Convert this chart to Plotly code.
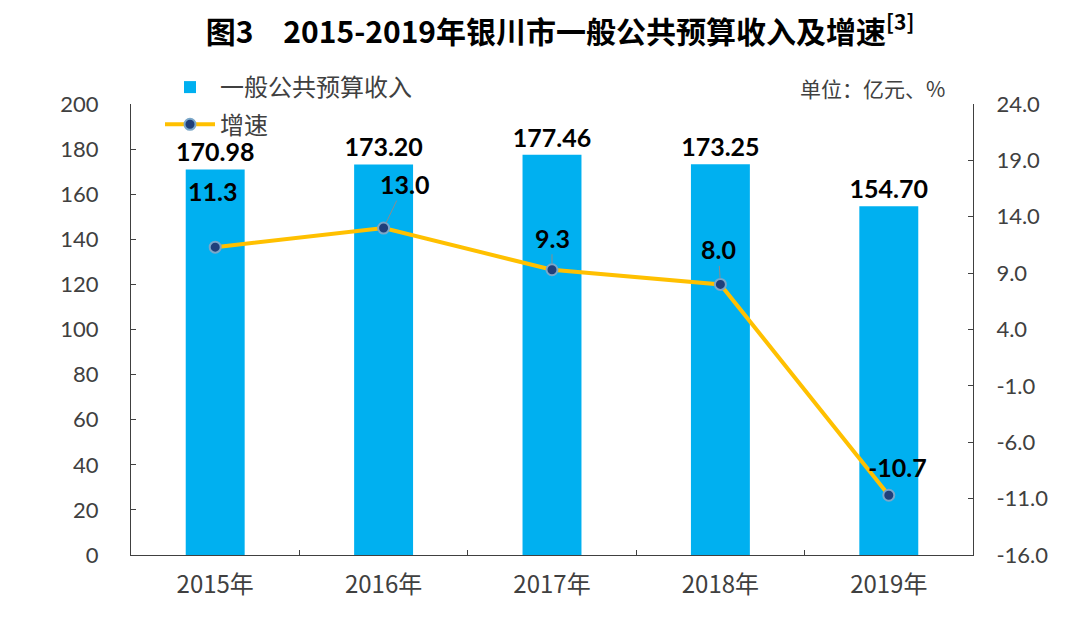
import plotly.graph_objects as go

years = ["2015年", "2016年", "2017年", "2018年", "2019年"]
revenue = [170.98, 173.20, 177.46, 173.25, 154.70]
growth = [11.3, 13.0, 9.3, 8.0, -10.7]
revenue_labels = ["170.98", "173.20", "177.46", "173.25", "154.70"]
growth_labels = ["11.3", "13.0", "9.3", "8.0", "-10.7"]
right_tick_vals = [-16, -11, -6, -1, 4, 9, 14, 19, 24]
right_tick_text = ["-16.0", "-11.0", "-6.0", "-1.0", "4.0", "9.0", "14.0", "19.0", "24.0"]
# label offsets (pixels) for growth labels, and whether a leader line is shown
growth_ax = [-3, 21, 0, -2, 9]
growth_ay = [-56, -44, -32, -35, -28]
growth_leader = [False, True, True, True, False]

bar_color = "#00B0F0"
line_color = "#FFC000"
num_font = "Lato"
cjk_font = "Noto Sans CJK SC"
axis_grey = "#404040"

# the page body adds an 8px offset; positions below are target page pixels
off = 8
W, H = 1080, 621
plot_l, plot_r, plot_t, plot_b = 131 - off, 973 - off, 104 - off, 555 - off
pw, ph = plot_r - plot_l, plot_b - plot_t

fig = go.Figure()
fig.add_trace(go.Bar(
    x=years, y=revenue, name="一般公共预算收入", legendgroup="a",
    marker=dict(color=bar_color, line=dict(width=0)),
    width=0.35,
    text=revenue_labels, textposition="outside", constraintext="none",
    textfont=dict(family=num_font, size=25, color="#000000", weight="bold"),
    cliponaxis=False,
))
fig.add_trace(go.Scatter(
    x=years, y=growth, name="增速", yaxis="y2", legendgroup="b",
    mode="lines+markers",
    line=dict(color=line_color, width=4),
    marker=dict(color="#1F3F7A", size=11, line=dict(color="#7BA7C9", width=2)),
))

for i in range(len(years)):
    fig.add_annotation(
        x=years[i], y=growth[i], xref="x", yref="y2",
        text=growth_labels[i], showarrow=True,
        ax=growth_ax[i], ay=growth_ay[i],
        arrowhead=0, arrowwidth=1,
        arrowcolor="#8C8C8C" if growth_leader[i] else "rgba(0,0,0,0)",
        standoff=6,
        font=dict(family=num_font, size=25, color="#000000", weight="bold"),
    )

fig.add_annotation(
    x=(947 - off - plot_l) / pw, y=(plot_b - (88 - off)) / ph, xref="paper", yref="paper",
    text="单位：亿元、%", showarrow=False, xanchor="right", yanchor="middle",
    font=dict(family=cjk_font, size=21, color=axis_grey),
)

fig.update_layout(
    width=W, height=H,
    margin=dict(l=plot_l, r=W - plot_r, t=plot_t, b=H - plot_b, autoexpand=False),
    paper_bgcolor="white", plot_bgcolor="white",
    title=dict(
        text="图3　2015-2019年银川市一般公共预算收入及增速<sup>[3]</sup>",
        x=(560 - off) / W, xanchor="center", y=1 - (32 - off) / H, yanchor="middle",
        font=dict(family=cjk_font, size=30, color="#000000", weight="bold"),
    ),
    showlegend=True,
    legend=dict(
        x=(160 - off - plot_l) / pw, y=(plot_b - (65 - off)) / ph,
        xanchor="left", yanchor="top",
        bgcolor="rgba(0,0,0,0)",
        font=dict(family=cjk_font, size=24, color=axis_grey),
        traceorder="grouped", tracegroupgap=3, itemwidth=50,
    ),
    xaxis=dict(
        showline=True, linecolor=axis_grey, linewidth=1,
        ticks="inside", tickson="boundaries", ticklen=5, tickcolor=axis_grey,
        tickfont=dict(family=cjk_font, size=24, color=axis_grey),
        showgrid=False, ticklabelstandoff=8,
    ),
    yaxis=dict(
        range=[0, 200], dtick=20, tick0=0,
        showline=True, linecolor=axis_grey, linewidth=1,
        ticks="inside", ticklen=5, tickcolor=axis_grey,
        tickfont=dict(family=num_font, size=22, color=axis_grey),
        showgrid=False, zeroline=False, ticklabelstandoff=27,
    ),
    yaxis2=dict(
        range=[-16, 24], overlaying="y", side="right",
        tickmode="array", tickvals=right_tick_vals, ticktext=right_tick_text,
        showline=True, linecolor=axis_grey, linewidth=1,
        ticks="inside", ticklen=5, tickcolor=axis_grey,
        tickfont=dict(family=num_font, size=22, color=axis_grey),
        showgrid=False, zeroline=False, ticklabelstandoff=18,
    ),
    bargap=0.65,
)

fig.write_html("out.html")
